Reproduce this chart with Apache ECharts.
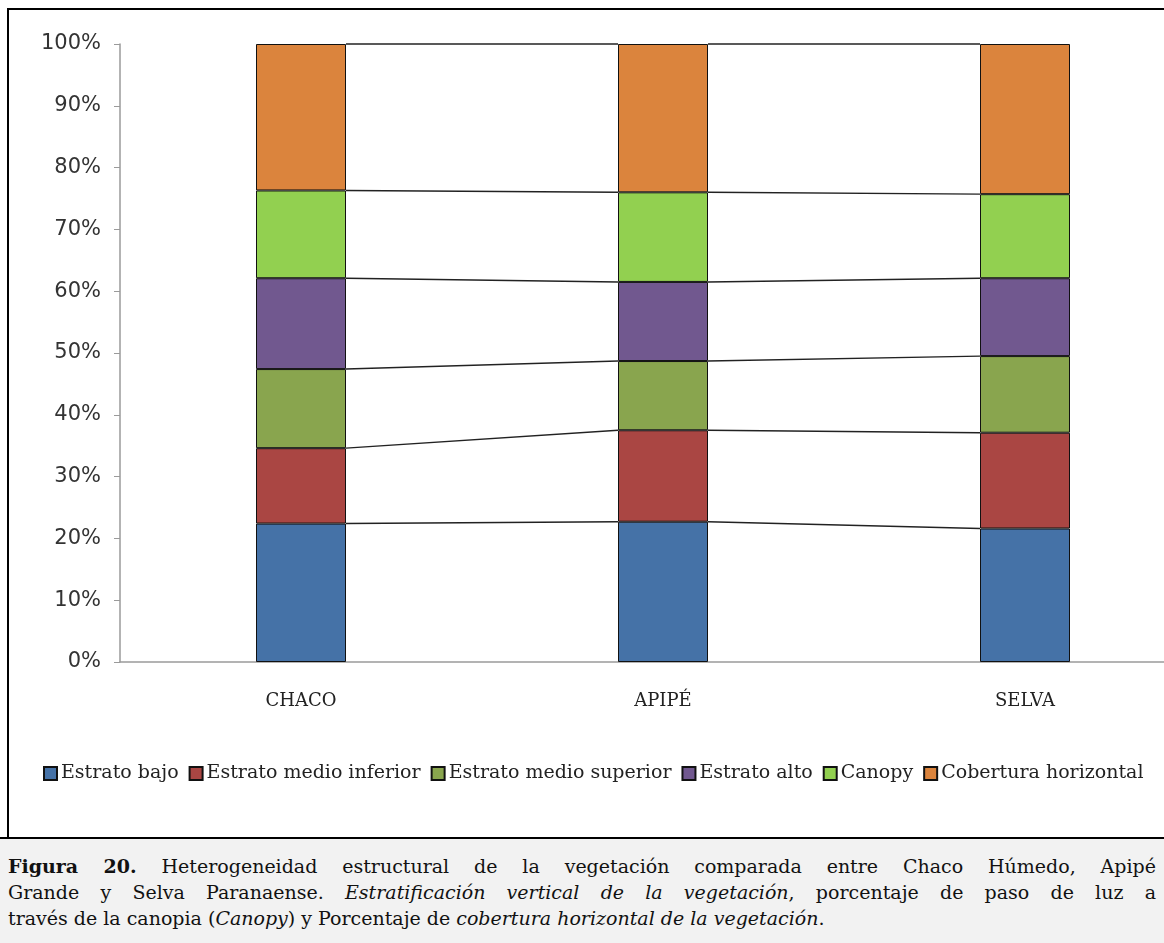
<!DOCTYPE html>
<html>
<head>
<meta charset="utf-8">
<script src="https://cdn.jsdelivr.net/npm/echarts@6/dist/echarts.min.js"></script>
<style>
  html, body { margin: 0; padding: 0; background: #fff; }
  #wrap { position: relative; width: 1164px; height: 943px; overflow: hidden; }
  #chart { position: absolute; left: 0; top: 0; width: 1230px; height: 838px; }
  #frame { position: absolute; left: 7px; top: 8px; width: 1200px; height: 840px;
           border-left: 2px solid #000; border-top: 2px solid #000; pointer-events: none; }
  #caption { position: absolute; left: 0; top: 837px; width: 1164px; height: 106px;
             background: #f2f2f2; border-top: 2px solid #000; box-sizing: border-box;
             font-family: "DejaVu Serif", serif; font-size: 19px; color: #111; padding: 14px 8px 0 8px; }
  #caption .ln { height: 26px; line-height: 26px; white-space: nowrap; }
  #caption .j { text-align: justify; text-align-last: justify; }
</style>
</head>
<body>
<div id="wrap">
  <div id="chart"></div>
  <div id="frame"></div>
  <div id="caption">
    <div class="ln j"><b>Figura 20.</b> Heterogeneidad estructural de la vegetación comparada entre Chaco Húmedo, Apipé</div>
    <div class="ln j">Grande y Selva Paranaense. <i>Estratificación vertical de la vegetación</i>, porcentaje de paso de luz a</div>
    <div class="ln">través de la canopia (<i>Canopy</i>) y Porcentaje de <i>cobertura horizontal de la vegetación</i>.</div>
  </div>
</div>
<script>
// ---- Data ----
const categories = ['CHACO', 'APIPÉ', 'SELVA'];
const seriesNames = ['Estrato bajo', 'Estrato medio inferior', 'Estrato medio superior', 'Estrato alto', 'Canopy', 'Cobertura horizontal'];
const estratoBajo          = [22.4, 22.7, 21.6];
const estratoMedioInferior = [12.2, 14.8, 15.5];
const estratoMedioSuperior = [12.8, 11.2, 12.4];
const estratoAlto          = [14.7, 12.8, 12.6];
const canopy               = [14.2, 14.5, 13.6];
const coberturaHorizontal  = [23.7, 24.0, 24.3];
const yTicks = [0, 10, 20, 30, 40, 50, 60, 70, 80, 90, 100];

const colors = ['#4572A7', '#AA4643', '#89A54E', '#71588F', '#92D050', '#DB843D'];
const allSeries = [estratoBajo, estratoMedioInferior, estratoMedioSuperior, estratoAlto, canopy, coberturaHorizontal];

// cumulative tops per category
const cum = categories.map((c, i) => {
  let s = 0;
  return allSeries.map(arr => (s += arr[i]));
});

const BAR_W = 90;

const barSeries = allSeries.map((arr, k) => ({
  name: seriesNames[k],
  type: 'bar',
  stack: 'total',
  barWidth: BAR_W,
  data: arr,
  itemStyle: { color: colors[k], borderColor: '#111', borderWidth: 1 },
  emphasis: { disabled: true },
  z: 3
}));

// series lines connecting segment tops between adjacent bars
const lineData = [];
for (let i = 0; i < categories.length - 1; i++) {
  for (let k = 0; k < allSeries.length; k++) lineData.push([i, k]);
}
const seriesLines = {
  type: 'custom',
  silent: true,
  z: 2,
  data: lineData,
  encode: { x: 0, y: -1 },
  renderItem: function (params, api) {
    const i = api.value(0), k = api.value(1);
    const p1 = api.coord([i, cum[i][k]]);
    const p2 = api.coord([i + 1, cum[i + 1][k]]);
    return {
      type: 'line',
      shape: { x1: p1[0] + BAR_W / 2, y1: p1[1], x2: p2[0] - BAR_W / 2, y2: p2[1] },
      style: { stroke: '#222', lineWidth: 1.4 }
    };
  }
};

const chart = echarts.init(document.getElementById('chart'), null, { renderer: 'canvas' });
chart.setOption({
  animation: false,
  backgroundColor: 'transparent',
  grid: { left: 120, top: 44, width: 1086, height: 618, containLabel: false },
  legend: {
    data: seriesNames,
    left: 38,
    top: 759,
    icon: 'rect',
    itemWidth: 13,
    itemHeight: 13,
    itemGap: 10,
    textStyle: { fontFamily: 'DejaVu Serif', fontSize: 19, color: '#222', padding: [0, 0, 0, -1] }
  },
  xAxis: {
    type: 'category',
    data: categories,
    axisLine: { lineStyle: { color: '#9a9a9a', width: 1.5 } },
    axisTick: { show: false },
    axisLabel: { margin: 30, fontFamily: 'DejaVu Serif', fontSize: 18, color: '#222' }
  },
  yAxis: {
    type: 'value',
    min: 0, max: 100, interval: 10,
    axisLine: { show: true, lineStyle: { color: '#9a9a9a', width: 1.5 } },
    axisTick: { show: true, length: 6, lineStyle: { color: '#9a9a9a' } },
    splitLine: { show: false },
    axisLabel: {
      margin: 19,
      fontFamily: 'DejaVu Sans', fontSize: 21, color: '#333',
      formatter: v => (yTicks.indexOf(v) >= 0 ? v + '%' : '')
    }
  },
  series: barSeries.concat([seriesLines])
});
</script>
</body>
</html>
